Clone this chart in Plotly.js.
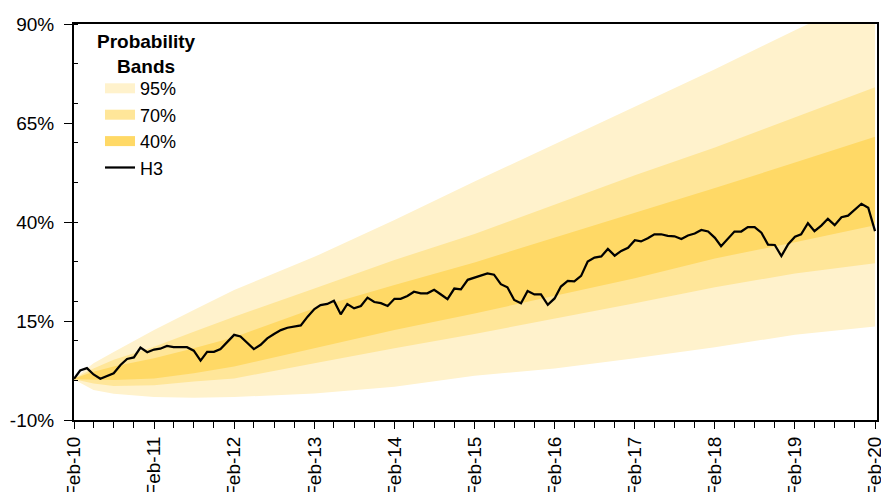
<!DOCTYPE html>
<html>
<head>
<meta charset="utf-8">
<script src="https://cdn.plot.ly/plotly-3.0.1.min.js"></script>
<style>
  html, body { margin: 0; padding: 0; background: #fff; }
  #fan-chart { width: 881px; height: 492px; }
</style>
</head>
<body>
<div id="fan-chart"></div>
<script>
'use strict';

// H3 monthly observations, Feb-10 .. Feb-20 (%)
const h3Values = [
  0.4, 2.5, 3.1, 1.5, 0.4, 1.1, 1.8, 3.9, 5.4, 5.8,
  8.3, 7.1, 7.8, 8.0, 8.7, 8.4, 8.4, 8.4, 7.5, 5.0,
  7.2, 7.2, 7.9, 9.8, 11.5, 11.1, 9.5, 7.9, 9.0, 10.6,
  11.7, 12.7, 13.3, 13.6, 13.9, 16.1, 18.0, 19.0, 19.3, 20.1,
  16.7, 19.3, 18.2, 18.8, 20.9, 19.8, 19.5, 18.8, 20.6, 20.6,
  21.3, 22.4, 22.0, 22.0, 22.9, 21.7, 20.5, 23.2, 23.0, 25.4,
  26.0, 26.4, 27.0, 26.7, 24.3, 23.5, 20.3, 19.5, 22.6, 21.7,
  21.7, 19.1, 20.7, 23.7, 25.1, 25.0, 26.4, 30.0, 31.0, 31.3,
  33.2, 31.5, 32.7, 33.5, 35.4, 35.1, 35.9, 36.9, 36.9, 36.5,
  36.4, 35.7, 36.6, 37.1, 38.0, 37.6, 36.0, 33.9, 35.9, 37.6,
  37.6, 38.7, 38.7, 37.3, 34.3, 34.2, 31.4, 34.4, 36.3, 36.9,
  39.7, 37.7, 39.1, 40.8, 39.2, 41.2, 41.6, 43.2, 44.6, 43.6, 37.7
];

// probability band edges (%)
const bandDates = [
  '2010-02-01', '2010-05-01', '2010-08-01', '2011-02-01', '2011-08-01',
  '2012-02-01', '2013-02-01', '2014-02-01', '2015-02-01', '2016-02-01',
  '2017-02-01', '2018-02-01', '2019-02-01', '2020-02-01'
];
const upper95 = [0.5, 4.3, 7.2, 12.7, 17.8, 22.8, 31.2, 40.5, 50.2, 59.6, 69.2, 78.6, 88.4, 98.0];
const lower95 = [0.2, -2.4, -3.4, -4.2, -4.4, -4.2, -3.3, -1.6, 1.2, 3.0, 5.6, 8.4, 11.5, 13.6];
const upper70 = [0.5, 3.0, 5.2, 8.5, 12.3, 16.1, 23.2, 30.4, 37.0, 44.4, 51.8, 58.8, 66.5, 74.0];
const lower70 = [0.3, -0.8, -1.4, -1.2, -0.3, 0.5, 4.3, 8.1, 11.7, 15.5, 19.5, 23.5, 27.0, 29.6];
const upper40 = [0.5, 2.2, 3.5, 5.6, 8.1, 10.9, 18.2, 24.1, 29.8, 36.0, 42.4, 48.6, 55.0, 61.5];
const lower40 = [0.3, 0.2, 0.1, 0.5, 1.8, 3.5, 8.1, 12.7, 16.9, 21.4, 25.8, 30.8, 34.9, 39.2];

const bandNames = ['95%', '70%', '40%'];
const bandColors = ['#FFF2CC', '#FFE699', '#FFD966'];

const yTicks = [-10, 15, 40, 65, 90];

// month stamps for the H3 series, starting Feb-10
const h3Dates = h3Values.map((v, i) => {
  const d = new Date(Date.UTC(2010, 1 + i, 1));
  return d.toISOString().slice(0, 10);
});

const font = 'Liberation Sans, Arial, sans-serif';

const bands = [[lower95, upper95], [lower70, upper70], [lower40, upper40]];
const data = [];

bands.forEach(([lo, hi], i) => {
  data.push({
    x: bandDates,
    y: lo,
    type: 'scatter',
    mode: 'lines',
    line: {width: 0, color: bandColors[i]},
    showlegend: false,
    hoverinfo: 'skip'
  }, {
    x: bandDates,
    y: hi,
    type: 'scatter',
    mode: 'lines',
    fill: 'tonexty',
    fillcolor: bandColors[i],
    line: {width: 0, color: bandColors[i]},
    showlegend: false,
    hoverinfo: 'skip'
  });
});

// legend swatches for the bands (no points of their own)
bandNames.forEach((name, i) => {
  data.push({
    x: [null],
    y: [null],
    type: 'scatter',
    mode: 'lines',
    name: name,
    line: {width: 10, color: bandColors[i]},
    hoverinfo: 'skip'
  });
});

data.push({
  x: h3Dates,
  y: h3Values,
  type: 'scatter',
  mode: 'lines',
  name: 'H3',
  line: {color: '#000000', width: 2.25},
  hoverinfo: 'skip'
});

const layout = {
  width: 881,
  height: 492,
  paper_bgcolor: '#ffffff',
  plot_bgcolor: '#ffffff',
  font: {family: font, size: 19, color: '#000000'},
  margin: {l: 74, r: 4, t: 24, b: 72, pad: 0},
  hovermode: false,
  showlegend: true,
  legend: {
    x: 0.0324,
    y: 0.8836,
    xanchor: 'left',
    yanchor: 'top',
    bgcolor: 'rgba(0,0,0,0)',
    traceorder: 'normal',
    itemwidth: 30,
    tracegroupgap: 0,
    font: {family: font, size: 18, color: '#000000'}
  },
  annotations: [{
    xref: 'paper',
    yref: 'paper',
    x: 0.0897,
    y: 0.9242,
    xanchor: 'center',
    yanchor: 'middle',
    align: 'center',
    showarrow: false,
    text: '<b>Probability<br>Bands</b>',
    font: {family: font, size: 19, color: '#000000'}
  }],
  xaxis: {
    type: 'date',
    range: ['2010-02-01', '2020-02-10'],
    tick0: '2010-02-01',
    dtick: 'M12',
    tickformat: '%b-%y',
    tickangle: -90,
    ticks: 'outside',
    ticklen: 7,
    tickwidth: 1,
    tickcolor: '#000000',
    ticklabelstandoff: 0,
    ticklabeloverflow: 'allow',
    showgrid: false,
    zeroline: false,
    showline: true,
    linecolor: '#000000',
    linewidth: 2,
    mirror: true,
    automargin: false,
    minor: {
      dtick: 'M3',
      tick0: '2010-02-01',
      ticks: 'outside',
      ticklen: 6,
      tickwidth: 1,
      tickcolor: '#000000',
      showgrid: false
    }
  },
  yaxis: {
    range: [-10, 90],
    tickvals: yTicks,
    ticktext: yTicks.map(v => v + '%'),
    ticks: 'outside',
    ticklen: 8,
    tickwidth: 1,
    tickcolor: '#000000',
    ticklabelstandoff: 6,
    showgrid: false,
    zeroline: false,
    showline: true,
    linecolor: '#000000',
    linewidth: 2,
    mirror: true,
    automargin: false,
    minor: {
      tick0: 0,
      dtick: 10,
      ticks: 'inside',
      ticklen: 4,
      tickwidth: 1,
      tickcolor: '#000000',
      showgrid: false
    }
  }
};

Plotly.newPlot('fan-chart', data, layout, {displayModeBar: false, staticPlot: true});
</script>
</body>
</html>
